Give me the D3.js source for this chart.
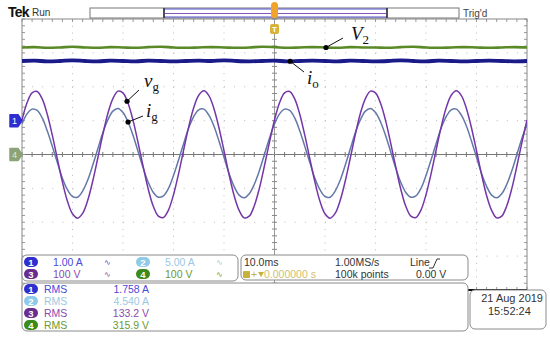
<!DOCTYPE html>
<html>
<head>
<meta charset="UTF-8">
<title>Scope capture</title>
<script src="https://d3js.org/d3.v7.min.js"></script>
<style>
  html, body { margin: 0; padding: 0; background: #fff; }
  svg { display: block; font-family: "Liberation Sans", Arial, sans-serif; }
  .lbl { font-family: "Liberation Serif", "Times New Roman", serif; font-style: italic; }
</style>
</head>
<body>
<svg width="550" height="337"></svg>
<script>

// sample times, ms (trigger at 0, 10 ms/div)
var timeMs = d3.range(-50, 51, 1);

// ch3 : grid voltage v_g, volts (100 V/div)
var vg = [102,153,182,186,164,119,57,-13,-81,-138,-175,-188,-174,-136,-79,-11,59,121,165,187,
          182,151,100,34,-36,-102,-153,-182,-186,-164,-119,-57,13,81,138,175,188,174,136,79,
          11,-59,-121,-165,-187,-182,-151,-100,-34,36,
          102,153,182,186,164,119,57,-13,-81,-138,-175,-188,-174,-136,-79,-11,59,121,165,187,
          182,151,100,34,-36,-102,-153,-182,-186,-164,-119,-57,13,81,138,175,188,174,136,79,
          11,-59,-121,-165,-187,-182,-151,-100,-34,36,102];

// ch2 : grid current i_g, amps (5 A/div)
var ig = [4.5,6.0,6.7,6.5,5.4,3.5,1.2,-1.2,-3.5,-5.2,-6.2,-6.3,-5.4,-3.8,-1.6,0.8,3.2,5.1,6.4,6.8,
          6.2,4.8,2.8,0.4,-2.0,-4.1,-5.6,-6.3,-6.1,-5.0,-3.1,-0.8,1.6,3.9,5.6,6.6,6.7,5.8,4.2,2.0,
          -0.4,-2.8,-4.7,-6.0,-6.4,-5.8,-4.4,-2.4,0.0,2.4,
          4.5,6.0,6.7,6.5,5.4,3.5,1.2,-1.2,-3.5,-5.2,-6.2,-6.3,-5.4,-3.8,-1.6,0.8,3.2,5.1,6.4,6.8,
          6.2,4.8,2.8,0.4,-2.0,-4.1,-5.6,-6.3,-6.1,-5.0,-3.1,-0.8,1.6,3.9,5.6,6.6,6.7,5.8,4.2,2.0,
          -0.4,-2.8,-4.7,-6.0,-6.4,-5.8,-4.4,-2.4,0.0,2.4,4.5];

// slow traces, sampled every 2.5 ms
var slowTimeMs = d3.range(-50, 50.1, 2.5);
// ch4 : dc link V_2, volts (100 V/div)
var v2 = [316,317,315,316,318,316,315,317,316,315,317,318,316,315,316,317,316,315,316,318,
          317,315,316,317,316,315,317,316,316,315,317,318,316,315,316,317,316,315,316,317,316];
// ch1 : output current i_o, amps (1 A/div, offset +1 div)
var io = [1.76,1.77,1.75,1.76,1.78,1.76,1.75,1.77,1.76,1.75,1.77,1.76,1.75,1.76,1.77,1.76,1.78,1.76,1.75,1.76,
          1.77,1.75,1.76,1.77,1.76,1.75,1.77,1.76,1.75,1.76,1.78,1.76,1.75,1.77,1.76,1.75,1.76,1.77,1.76,1.75,1.76];

// channel settings
var chNames   = ["1", "2", "3", "4"];
var chScales  = ["1.00 A", "5.00 A", "100 V", "100 V"];
var chPerDiv  = [1, 5, 100, 100];
var chOffset  = [1, 0, 0, 0];     // divisions
var rmsLabels = ["RMS", "RMS", "RMS", "RMS"];
var rmsValues = ["1.758 A", "4.540 A", "133.2 V", "315.9 V"];

var timebase = ["10.0ms", "1.00MS/s", "Line", "100k points", "0.00 V", "0.000000 s"];
var dateLines = ["21 Aug 2019", "15:52:24"];

// SETUP

var svg = d3.select("svg");
var pLeft = 22, pRight = 527, pTop = 19, pBottom = 290;

var x = d3.scaleLinear().domain([-50, 50]).range([pLeft, pRight]);
var yDiv = d3.scaleLinear().domain([-4, 4]).range([pBottom, pTop]);
var divX = (pRight - pLeft) / 10, divY = (pBottom - pTop) / 8;

function chY(ch) {
  return function (v) { return yDiv(v / chPerDiv[ch] + chOffset[ch]); };
}

var colTrace = ["#1a1a88", "#6478a8", "#7436a8", "#5a8a28"];
var colPill  = ["#2f2fd0", "#8fcbe8", "#6a2d8f", "#3d8a1c"];
var colText  = ["#4a4ad8", "#9cc8e0", "#8a4ab0", "#6c9a30"];

svg.append("clipPath").attr("id", "plot")
  .append("rect").attr("x", pLeft).attr("y", pTop).attr("width", pRight - pLeft).attr("height", pBottom - pTop);

// GRATICULE

var grid = svg.append("g");
d3.range(1, 10).forEach(function (k) {
  if (k === 5) return;
  grid.append("line")
    .attr("x1", pLeft + k * divX).attr("x2", pLeft + k * divX)
    .attr("y1", pTop).attr("y2", pBottom)
    .attr("stroke", "#bbb").attr("stroke-width", 1)
    .attr("stroke-dasharray", "1," + (divY / 5 - 1));
});
d3.range(1, 8).forEach(function (k) {
  if (k === 4) return;
  grid.append("line")
    .attr("x1", pLeft).attr("x2", pRight)
    .attr("y1", pTop + k * divY).attr("y2", pTop + k * divY)
    .attr("stroke", "#bbb").attr("stroke-width", 1)
    .attr("stroke-dasharray", "1," + (divX / 5 - 1));
});

var cx = x(0), cy = yDiv(0);
grid.append("line").attr("x1", pLeft).attr("x2", pRight).attr("y1", cy).attr("y2", cy)
  .attr("stroke", "#777").attr("stroke-width", 1);
grid.append("line").attr("x1", cx).attr("x2", cx).attr("y1", pTop).attr("y2", pBottom)
  .attr("stroke", "#999").attr("stroke-width", 1);

// minor ticks on the crosshair and on the frame
d3.range(0, 51).forEach(function (k) {
  var tx = pLeft + k * divX / 5;
  grid.append("line").attr("x1", tx).attr("x2", tx).attr("y1", cy - 2.5).attr("y2", cy + 2.5).attr("stroke", "#777");
  grid.append("line").attr("x1", tx).attr("x2", tx).attr("y1", pTop).attr("y2", pTop + 3).attr("stroke", "#999");
  grid.append("line").attr("x1", tx).attr("x2", tx).attr("y1", pBottom - 3).attr("y2", pBottom).attr("stroke", "#999");
});
d3.range(0, 41).forEach(function (k) {
  var ty = pTop + k * divY / 5;
  grid.append("line").attr("x1", cx - 2.5).attr("x2", cx + 2.5).attr("y1", ty).attr("y2", ty).attr("stroke", "#888");
  grid.append("line").attr("x1", pLeft).attr("x2", pLeft + 3).attr("y1", ty).attr("y2", ty).attr("stroke", "#999");
  grid.append("line").attr("x1", pRight - 3).attr("x2", pRight).attr("y1", ty).attr("y2", ty).attr("stroke", "#999");
});
grid.append("rect").attr("x", pLeft).attr("y", pTop).attr("width", pRight - pLeft).attr("height", pBottom - pTop)
  .attr("fill", "none").attr("stroke", "#888").attr("stroke-width", 1);
grid.append("line").attr("x1", pLeft).attr("x2", pRight).attr("y1", pBottom).attr("y2", pBottom)
  .attr("stroke", "#111").attr("stroke-width", 2);

// TRACES

var traces = svg.append("g").attr("clip-path", "url(#plot)");

function drawTrace(times, vals, ch, width) {
  var yc = chY(ch);
  var line = d3.line()
    .x(function (d, i) { return x(times[i]); })
    .y(function (d) { return yc(d); })
    .curve(d3.curveCatmullRom.alpha(0.5));
  traces.append("path").datum(vals)
    .attr("d", line)
    .attr("fill", "none")
    .attr("stroke", colTrace[ch])
    .attr("stroke-width", width)
    .attr("stroke-linejoin", "round");
}

drawTrace(slowTimeMs, v2, 3, 2.6);
drawTrace(slowTimeMs, io, 0, 3.8);
drawTrace(timeMs, ig, 1, 1.5);
drawTrace(timeMs, vg, 2, 1.5);

// channel ground markers
function marker(yPos, fill, label, txtCol) {
  var g = svg.append("g").attr("transform", "translate(0," + yPos + ")");
  g.append("path").attr("d", "M10,-6 L18,-6 L22,0 L18,6 L10,6 Z").attr("fill", fill)
    .attr("stroke", fill).attr("stroke-linejoin", "round").attr("stroke-width", 1.5);
  g.append("text").attr("x", 14.5).attr("y", 3.5).attr("text-anchor", "middle")
    .attr("font-size", 9).attr("fill", txtCol).text(label);
}
marker(chY(0)(0), "#2f2fd0", "1", "#fff");
marker(chY(3)(0), "#8ba377", "4", "#dfe8d5");

// ANNOTATIONS

function valueAt(times, vals, t) {
  var i = d3.bisectLeft(times, t);
  if (i <= 0) return vals[0];
  var f = (t - times[i - 1]) / (times[i] - times[i - 1]);
  return vals[i - 1] + f * (vals[i] - vals[i - 1]);
}

var notes = [
  { t: 10.2, times: slowTimeMs, vals: v2, ch: 3, lx: 343, ly: 38, tx: 351, ty: 40, main: "V", sub: "2" },
  { t: 3.1, times: slowTimeMs, vals: io, ch: 0, lx: 304, ly: 72, tx: 307, ty: 84, main: "i", sub: "o" },
  { t: -29.2, times: timeMs, vals: vg, ch: 2, lx: 139, ly: 90, tx: 144, ty: 87, main: "v", sub: "g" },
  { t: -29.0, times: timeMs, vals: ig, ch: 1, lx: 143, ly: 116, tx: 146, ty: 117, main: "i", sub: "g" }
];
notes.forEach(function (n) {
  var px = x(n.t), py = chY(n.ch)(valueAt(n.times, n.vals, n.t));
  svg.append("line").attr("x1", px).attr("y1", py).attr("x2", n.lx).attr("y2", n.ly)
    .attr("stroke", "#111").attr("stroke-width", 1);
  svg.append("circle").attr("cx", px).attr("cy", py).attr("r", 2.6).attr("fill", "#000");
  var t = svg.append("text").attr("class", "lbl").attr("x", n.tx).attr("y", n.ty)
    .attr("font-size", 19).attr("fill", "#111");
  t.append("tspan").text(n.main);
  t.append("tspan").attr("dy", 4).attr("font-size", 13).attr("font-style", "normal").text(n.sub);
});

// TOP BAR

svg.append("text").attr("x", 8).attr("y", 17).attr("font-size", 14).attr("font-weight", "bold")
  .attr("letter-spacing", -0.8).attr("fill", "#111").text("Tek");
svg.append("text").attr("x", 32).attr("y", 16).attr("font-size", 10).attr("fill", "#333").text("Run");

svg.append("rect").attr("x", 90).attr("y", 8).attr("width", 369).attr("height", 10)
  .attr("fill", "#fff").attr("stroke", "#777");
svg.append("rect").attr("x", 164).attr("y", 9).attr("width", 223).attr("height", 8)
  .attr("fill", "#fff").attr("stroke", "#5050c8");
svg.append("line").attr("x1", 165).attr("x2", 386).attr("y1", 13.5).attr("y2", 13.5)
  .attr("stroke", "#8a5ab8").attr("stroke-width", 1);
[164, 387].forEach(function (bx) {
  svg.append("line").attr("x1", bx).attr("x2", bx).attr("y1", 8).attr("y2", 18)
    .attr("stroke", "#111").attr("stroke-width", 1.2);
});
svg.append("text").attr("x", 463).attr("y", 17).attr("font-size", 10).attr("fill", "#444").text("Trig'd");

// trigger position marker
svg.append("rect").attr("x", cx - 3.5).attr("y", 2).attr("width", 7).attr("height", 16).attr("rx", 3.5)
  .attr("fill", "#f2a32c");
svg.append("rect").attr("x", cx - 4.5).attr("y", 24).attr("width", 9).attr("height", 10).attr("rx", 2)
  .attr("fill", "#d9b23a");
svg.append("text").attr("x", cx).attr("y", 32).attr("text-anchor", "middle").attr("font-size", 8)
  .attr("font-weight", "bold").attr("fill", "#fff").text("T");

// READOUT BOXES

function box(bx, by, bw, bh) {
  svg.append("rect").attr("x", bx).attr("y", by).attr("width", bw).attr("height", bh).attr("rx", 5)
    .attr("fill", "#fff").attr("stroke", "#8a8a8a").attr("stroke-width", 1);
}
function pill(px, py, ch) {
  svg.append("rect").attr("x", px).attr("y", py - 5).attr("width", 14).attr("height", 10).attr("rx", 5)
    .attr("fill", colPill[ch]);
  svg.append("text").attr("x", px + 7).attr("y", py + 3.5).attr("text-anchor", "middle")
    .attr("font-size", 9.5).attr("font-weight", "bold").attr("fill", "#fff").text(chNames[ch]);
}
function txt(tx, ty, s, col, anchor, size) {
  return svg.append("text").attr("x", tx).attr("y", ty).attr("font-size", size || 10.5)
    .attr("text-anchor", anchor || "start").attr("fill", col).text(s);
}

box(22, 255, 216, 26);
[[0, 24, 262], [1, 136, 262], [2, 24, 274], [3, 136, 274]].forEach(function (p) {
  var ch = p[0];
  pill(p[1], p[2], ch);
  txt(p[1] + 29, p[2] + 4, chScales[ch], colText[ch]);
  txt(p[1] + 80, p[2] + 3, "∿", colText[ch], "start", 8);
});

box(241, 255, 227, 25);
txt(244, 266, timebase[0], "#333");
txt(335, 266, timebase[1], "#333");
txt(410, 266, timebase[2], "#333");
svg.append("path").attr("d", "M429,268 L433,268 L437,259 L440,259").attr("fill", "none").attr("stroke", "#333");
svg.append("rect").attr("x", 243).attr("y", 271).attr("width", 7).attr("height", 7).attr("rx", 1).attr("fill", "#c6b23a");
txt(251, 278, "+", "#c6b23a");
svg.append("path").attr("d", "M258,272 L264,272 L261,277 Z").attr("fill", "#c6b23a");
txt(264, 278, timebase[5], "#d0c070");
txt(335, 278, timebase[3], "#333");
txt(416, 278, timebase[4], "#333");

box(22, 283, 446, 48);
rmsLabels.forEach(function (lab, ch) {
  var ry = 289 + ch * 12;
  pill(24, ry, ch);
  txt(44, ry + 4, lab, colText[ch]);
  txt(149, ry + 4, rmsValues[ch], colText[ch], "end");
});

box(470, 290, 76, 39);
txt(543, 302, dateLines[0], "#333", "end", 11);
txt(488, 315, dateLines[1], "#333", "start", 11);

</script>
</body>
</html>
